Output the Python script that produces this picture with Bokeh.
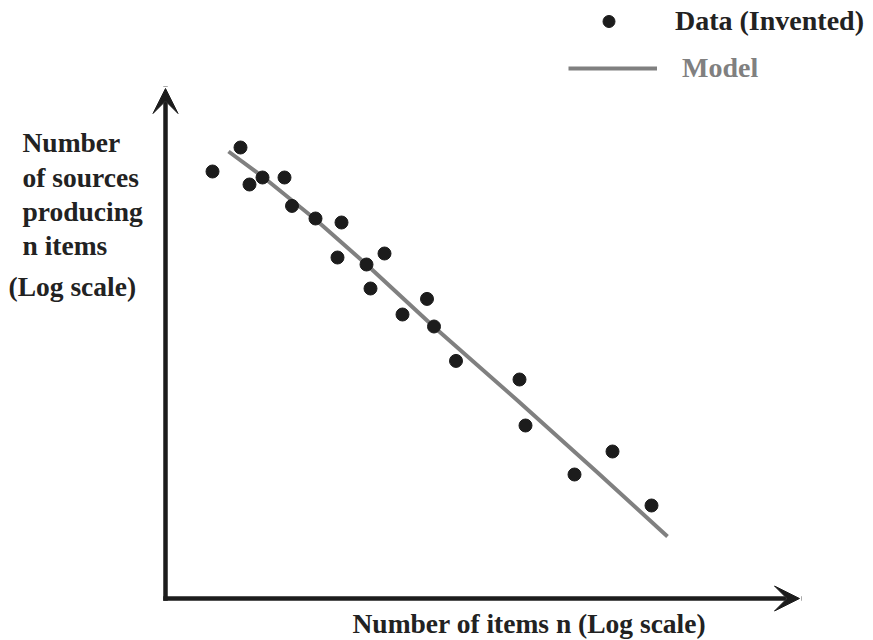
from bokeh.plotting import figure
from bokeh.models import Range1d, Arrow, VeeHead, Label, Legend, LegendItem, ColumnDataSource
from bokeh.embed import file_html
from bokeh.resources import INLINE

# Data (log10 units)
data_log_n = [0.188, 0.300, 0.336, 0.388, 0.476, 0.506, 0.600, 0.704, 0.688, 0.804, 0.876,
              0.820, 0.948, 1.046, 1.074, 1.162, 1.416, 1.440, 1.636, 1.788, 1.944]
data_log_count = [2.135, 2.255, 2.070, 2.105, 2.105, 1.963, 1.900, 1.880, 1.705, 1.670, 1.725,
                  1.550, 1.420, 1.498, 1.360, 1.188, 1.095, 0.865, 0.620, 0.735, 0.465]

model_log_n = [0.252, 0.388, 0.600, 0.804, 1.072, 1.408, 1.728, 2.008]
model_log_count = [2.235, 2.110, 1.895, 1.670, 1.360, 0.990, 0.630, 0.310]

x_axis_end = 2.536
y_axis_end = 2.55

y_label_lines = ["Number", "of sources", "producing", "n items", "(Log scale)"]
x_label_text = "Number of items n  (Log scale)"
legend_labels = ["Data (Invented)", "Model"]

W, H = 865, 640
p = figure(width=W, height=H, output_backend="svg", toolbar_location=None,
           x_axis_type=None, y_axis_type=None,
           x_range=Range1d(-0.66, 2.8), y_range=Range1d(-0.21, 2.99),
           min_border=0, min_border_left=0, min_border_right=0,
           min_border_top=0, min_border_bottom=0)
p.outline_line_color = None
p.background_fill_color = "white"
p.border_fill_color = "white"

INK = "#1c1c1c"
GRAY = "#808080"
FONT = "Liberation Serif"

# Axes as arrows
for (xe, ye) in [(x_axis_end, 0), (0, y_axis_end)]:
    p.add_layout(Arrow(x_start=0, y_start=0, x_end=xe, y_end=ye,
                       line_color=INK, line_width=4.5, line_cap="square",
                       end=VeeHead(size=25, fill_color=INK, line_color=INK, line_width=1)))

model_src = ColumnDataSource(dict(x=model_log_n, y=model_log_count))
data_src = ColumnDataSource(dict(x=data_log_n, y=data_log_count))

model_r = p.line("x", "y", source=model_src, line_color=GRAY, line_width=4)
data_r = p.scatter("x", "y", source=data_src, size=13, fill_color=INK, line_color=INK)

# Y label (horizontal, multi-line)
ylab_x = [-0.572, -0.572, -0.572, -0.572, -0.628]
ylab_y = [2.28, 2.105, 1.935, 1.765, 1.56]
for t, xx, yy in zip(y_label_lines, ylab_x, ylab_y):
    p.add_layout(Label(x=xx, y=yy, text=t, text_font=FONT, text_font_style="bold",
                       text_font_size="27.5px", text_color="#222222",
                       text_align="left", text_baseline="alphabetic"))

p.add_layout(Label(x=(352 - 165) / 250, y=-0.125, text=x_label_text, text_font=FONT,
                   text_font_style="bold", text_font_size="27.5px", text_color="#222222",
                   text_align="left", text_baseline="alphabetic"))

# Legends
leg1 = Legend(items=[LegendItem(label=legend_labels[0], renderers=[data_r])],
              location=(570, H - 7 - 30), orientation="vertical",
              border_line_color=None, background_fill_alpha=0, padding=0, margin=0,
              glyph_width=77, glyph_height=30, label_standoff=28,
              label_text_font=FONT, label_text_font_style="bold",
              label_text_font_size="28px", label_text_color="#222222")
leg2 = Legend(items=[LegendItem(label=legend_labels[1], renderers=[model_r])],
              location=(568, H - 54 - 30), orientation="vertical",
              border_line_color=None, background_fill_alpha=0, padding=0, margin=0,
              glyph_width=89, glyph_height=30, label_standoff=25,
              label_text_font=FONT, label_text_font_style="bold",
              label_text_font_size="28px", label_text_color=GRAY)
p.add_layout(leg1, "center")
p.add_layout(leg2, "center")

open("out.html", "w").write(file_html(p, INLINE))
